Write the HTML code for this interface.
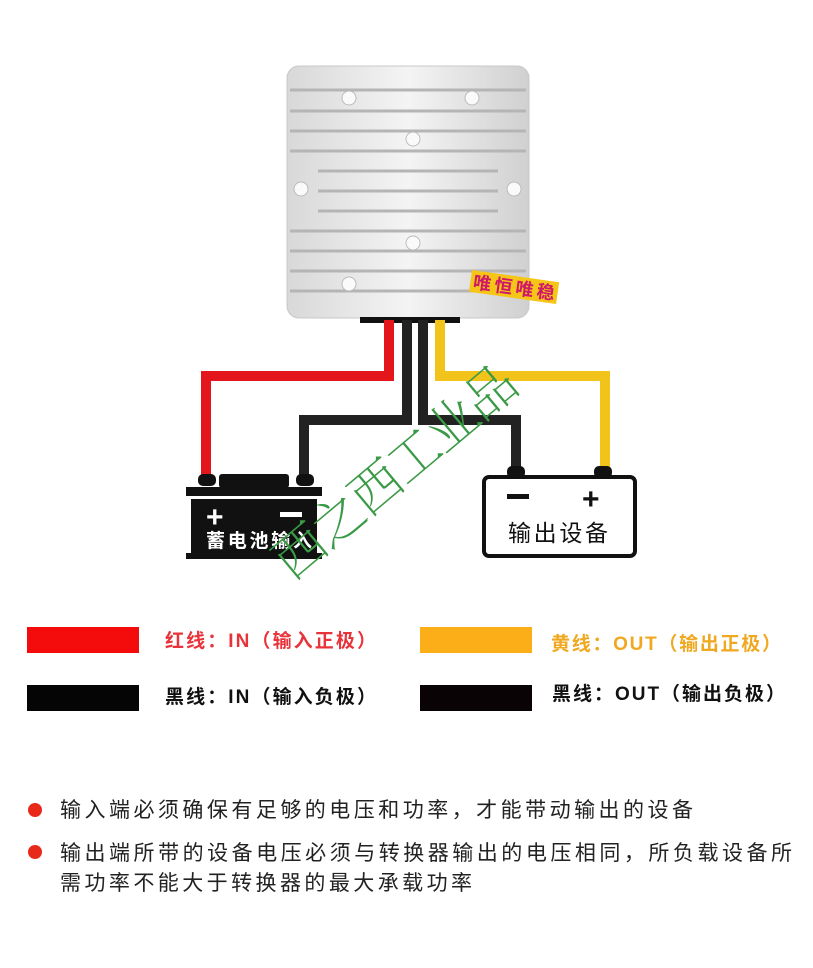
<!DOCTYPE html>
<html><head><meta charset="utf-8"><style>
html,body{margin:0;padding:0;background:#fff;width:813px;height:968px;overflow:hidden}
svg{display:block}
text{font-family:"Liberation Sans","Noto Sans CJK SC",sans-serif;font-weight:bold}
text.n{font-weight:normal}
text.wm{font-family:"Noto Serif CJK SC","Liberation Serif",serif;font-weight:200}
</style></head><body>
<svg width="813" height="968" viewBox="0 0 813 968">
<defs>
<linearGradient id="al" x1="0" y1="0" x2="1" y2="0">
<stop offset="0" stop-color="#d8d8d8"/><stop offset="0.5" stop-color="#f4f4f4"/><stop offset="1" stop-color="#d0d0d0"/>
</linearGradient>
</defs>
<rect x="287" y="66" width="242" height="252" rx="12" fill="url(#al)" stroke="#c8c8c8"/>
<g stroke="#b5b5b5" stroke-width="3">
<line x1="290" y1="90" x2="526" y2="90"/>
<line x1="290" y1="111" x2="526" y2="111"/>
<line x1="290" y1="131" x2="526" y2="131"/>
<line x1="290" y1="151" x2="526" y2="151"/>
<line x1="318" y1="171" x2="498" y2="171"/>
<line x1="318" y1="191" x2="498" y2="191"/>
<line x1="318" y1="211" x2="498" y2="211"/>
<line x1="290" y1="231" x2="526" y2="231"/>
<line x1="290" y1="251" x2="526" y2="251"/>
<line x1="290" y1="271" x2="526" y2="271"/>
<line x1="290" y1="291" x2="526" y2="291"/>
</g>
<g fill="#fafafa" stroke="#bbb">
<circle cx="349" cy="98" r="7"/><circle cx="472" cy="98" r="7"/>
<circle cx="413" cy="139" r="7"/><circle cx="301" cy="189" r="7"/><circle cx="514" cy="189" r="7"/>
<circle cx="413" cy="243" r="7"/><circle cx="349" cy="284" r="7"/>
</g>
<g transform="translate(472,270) rotate(8)">
<rect x="0" y="0" width="88" height="22" fill="#f5c518"/>
<text x="3" y="18" font-size="18" fill="#d0186a" textLength="82">唯恒唯稳</text>
</g>
<rect x="360" y="317" width="100" height="6" fill="#111"/>
<g fill="none" stroke-width="10" stroke-linejoin="miter">
<polyline points="389,320 389,376 206,376 206,480" stroke="#e3161b"/>
<polyline points="407,320 407,420 304,420 304,478" stroke="#222"/>
<polyline points="423,320 423,420 516,420 516,470" stroke="#222"/>
<polyline points="440,320 440,376 605,376 605,470" stroke="#f2c31b"/>
</g>
<rect x="198" y="474" width="18" height="12" rx="5" fill="#111"/>
<rect x="296" y="474" width="18" height="12" rx="5" fill="#111"/>
<rect x="219" y="474" width="70" height="14" rx="3" fill="#111"/>
<rect x="186" y="487" width="136" height="9" fill="#111"/>
<rect x="191" y="499" width="126" height="57" fill="#111"/>
<rect x="186" y="553" width="136" height="6" fill="#111"/>
<text x="206" y="527" font-size="30" fill="#fff">+</text>
<rect x="280" y="512" width="22" height="5" fill="#fff"/>
<text x="206" y="547" font-size="19" fill="#fff" textLength="106">蓄电池输入</text>
<rect x="507" y="466" width="18" height="12" rx="5" fill="#111"/>
<rect x="594" y="466" width="18" height="12" rx="5" fill="#111"/>
<rect x="484" y="477" width="151" height="79" rx="5" fill="#fff" stroke="#111" stroke-width="4"/>
<rect x="507" y="494" width="22" height="5" fill="#111"/>
<text x="582" y="509" font-size="30" fill="#111">+</text>
<text class="n" x="508" y="541" font-size="23" fill="#111" textLength="100">输出设备</text>
<text class="wm" x="292" y="582" font-size="52" fill="#3a9a45" transform="rotate(-40 292 582)" textLength="300">西之西工业品</text>
<rect x="27" y="627" width="112" height="26" fill="#f40b0b"/>
<rect x="420" y="627" width="112" height="26" fill="#fbae17"/>
<rect x="27" y="685" width="112" height="26" fill="#050505"/>
<rect x="420" y="685" width="112" height="26" fill="#0a0305"/>
<text x="165" y="647" font-size="19" fill="#e8333a" textLength="211">红线：IN（输入正极）</text>
<text x="551" y="650" font-size="19" fill="#f0a820" textLength="230">黄线：OUT（输出正极）</text>
<text x="165" y="703" font-size="19" fill="#111" textLength="211">黑线：IN（输入负极）</text>
<text x="552" y="700" font-size="19" fill="#111" textLength="233">黑线：OUT（输出负极）</text>
<circle cx="35" cy="810" r="7" fill="#e8291a"/>
<circle cx="35" cy="852" r="7" fill="#e8291a"/>
<text class="n" x="60" y="817" font-size="21" fill="#222" textLength="633">输入端必须确保有足够的电压和功率，才能带动输出的设备</text>
<text class="n" x="60" y="860" font-size="21" fill="#222" textLength="732">输出端所带的设备电压必须与转换器输出的电压相同，所负载设备所</text>
<text class="n" x="60" y="890" font-size="21" fill="#222" textLength="412">需功率不能大于转换器的最大承载功率</text>
</svg>
</body></html>
